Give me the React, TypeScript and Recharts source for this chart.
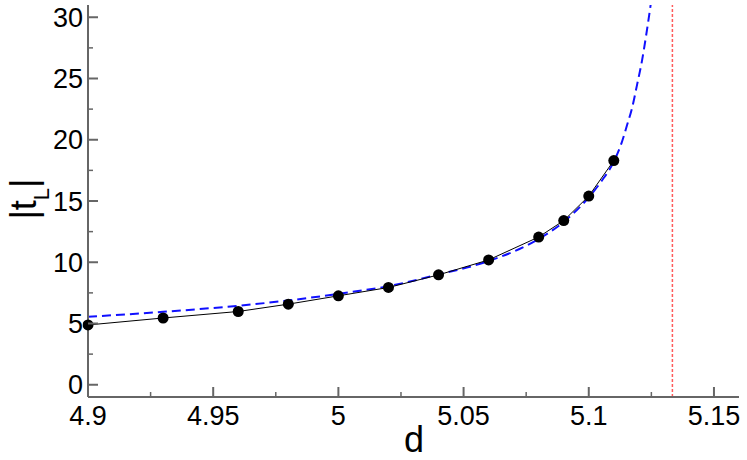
import React from 'react'
import { LineChart, Line, XAxis, YAxis, ReferenceLine } from 'recharts'

// measured points (black dots)
const dValues = [4.9, 4.93, 4.96, 4.98, 5.0, 5.02, 5.04, 5.06, 5.08, 5.09, 5.1, 5.11]
const tValues = [4.88, 5.45, 5.98, 6.58, 7.26, 7.94, 8.97, 10.19, 12.06, 13.4, 15.4, 18.3]

// fitted curve (blue dashed)
const fitD = [4.9, 4.93, 4.96, 4.98, 5.0, 5.02, 5.04, 5.06, 5.08, 5.09, 5.1, 5.105, 5.1102, 5.1133, 5.1153, 5.1173, 5.1193, 5.1213, 5.1229, 5.1246, 5.1262]
const fitT = [5.55, 5.95, 6.45, 6.88, 7.42, 8.05, 9.0, 10.1, 11.9, 13.3, 15.3, 16.6, 18.3, 19.86, 21.2, 22.6, 24.5, 26.5, 28.5, 30.85, 33.3]

const dCritical = 5.1334

const xMajor = [4.9, 4.95, 5, 5.05, 5.1, 5.15]
const xMinor = [4.925, 4.975, 5.025, 5.075, 5.125]
const yMajor = [0, 5, 10, 15, 20, 25, 30]
const yMinor = [2.5, 7.5, 12.5, 17.5, 22.5, 27.5]

const xTicks = [...xMajor, ...xMinor].sort((a, b) => a - b)
const yTicks = [...yMajor, ...yMinor].sort((a, b) => a - b)

const points = dValues.map((d, i) => ({ d, t: tValues[i] }))
const fit = fitD.map((d, i) => ({ d, t: fitT[i] }))

const FONT = '"Liberation Sans", Arial, Helvetica, sans-serif'
const AXIS = '#666'

const isMajor = (v: number, list: number[]) => list.some((m) => Math.abs(m - v) < 1e-9)

const BottomTick = (props: any) => {
  const { x, y, payload } = props
  const major = isMajor(payload.value, xMajor)
  return (
    <g>
      <line x1={x} x2={x} y1={y} y2={y - (major ? 10 : 5)} stroke={AXIS} strokeWidth={major ? 2 : 1.5} />
      {major && (
        <text x={x} y={y + 28} textAnchor="middle" fontSize={27} fontFamily={FONT} fill="#000">
          {payload.value}
        </text>
      )}
    </g>
  )
}

const TopTick = (props: any) => {
  const { x, y, payload } = props
  const major = isMajor(payload.value, xMajor)
  return <line x1={x} x2={x} y1={y} y2={y + (major ? 10 : 5)} stroke={AXIS} strokeWidth={major ? 2 : 1.5} />
}

const LeftTick = (props: any) => {
  const { x, y, payload } = props
  const major = isMajor(payload.value, yMajor)
  return (
    <g>
      <line x1={x} x2={x + (major ? 10 : 5)} y1={y} y2={y} stroke={AXIS} strokeWidth={major ? 2 : 1.5} />
      {major && (
        <text x={x - 5} y={y} dy="0.36em" textAnchor="end" fontSize={27} fontFamily={FONT} fill="#000">
          {payload.value}
        </text>
      )}
    </g>
  )
}

const RightTick = (props: any) => {
  const { x, y, payload } = props
  const major = isMajor(payload.value, yMajor)
  return <line x1={x} x2={x - (major ? 10 : 5)} y1={y} y2={y} stroke={AXIS} strokeWidth={major ? 2 : 1.5} />
}

const yLabel = () => (
  <text x={36} y={199} transform="rotate(-90 36 199)" textAnchor="middle" fontSize={36} fontFamily={FONT} fill="#000">
    |t<tspan fontSize={22} dy={13}>L</tspan>
    <tspan dy={-13}>|</tspan>
  </text>
)

const xLabel = () => (
  <text x={414} y={452} textAnchor="middle" fontSize={36} fontFamily={FONT} fill="#000">
    d
  </text>
)

export default function App() {
  return (
    <div style={{ position: 'absolute', left: 0, top: 0, background: '#fff' }}>
      <LineChart width={747} height={460} margin={{ top: 5, right: 8, bottom: 0, left: 0 }}>
        <XAxis
          dataKey="d"
          type="number"
          domain={[4.9, 5.16]}
          ticks={xTicks}
          interval={0}
          height={63}
          tickSize={0}
          tickMargin={0}
          tickLine={false}
          tick={BottomTick}
          axisLine={{ stroke: AXIS, strokeWidth: 2 }}
          allowDataOverflow
          label={{ content: xLabel }}
        />
        <XAxis
          xAxisId="top"
          orientation="top"
          dataKey="d"
          type="number"
          domain={[4.9, 5.16]}
          ticks={xTicks}
          interval={0}
          height={0}
          tickSize={0}
          tickMargin={0}
          tickLine={false}
          tick={TopTick}
          axisLine={{ stroke: AXIS, strokeWidth: 2 }}
          allowDataOverflow
        />
        <YAxis
          type="number"
          domain={[-1, 31]}
          ticks={yTicks}
          interval={0}
          width={88}
          tickSize={0}
          tickMargin={0}
          tickLine={false}
          tick={LeftTick}
          axisLine={{ stroke: AXIS, strokeWidth: 2 }}
          allowDataOverflow
          label={{ content: yLabel }}
        />
        <YAxis
          yAxisId="right"
          orientation="right"
          type="number"
          domain={[-1, 31]}
          ticks={yTicks}
          interval={0}
          width={0}
          tickSize={0}
          tickMargin={0}
          tickLine={false}
          tick={RightTick}
          axisLine={{ stroke: AXIS, strokeWidth: 2 }}
          allowDataOverflow
        />
        <ReferenceLine x={dCritical} stroke="#ff5a5a" strokeWidth={1.5} strokeDasharray="3 2" />
        <Line
          data={fit}
          dataKey="t"
          type="monotone"
          stroke="#1010ff"
          strokeWidth={2}
          strokeDasharray="9 5"
          dot={false}
          isAnimationActive={false}
        />
        <Line
          data={points}
          dataKey="t"
          type="linear"
          stroke="#000"
          strokeWidth={1}
          dot={{ r: 5.5, fill: '#000', stroke: '#000', strokeWidth: 0, clipDot: false }}
          isAnimationActive={false}
        />
      </LineChart>
    </div>
  )
}
